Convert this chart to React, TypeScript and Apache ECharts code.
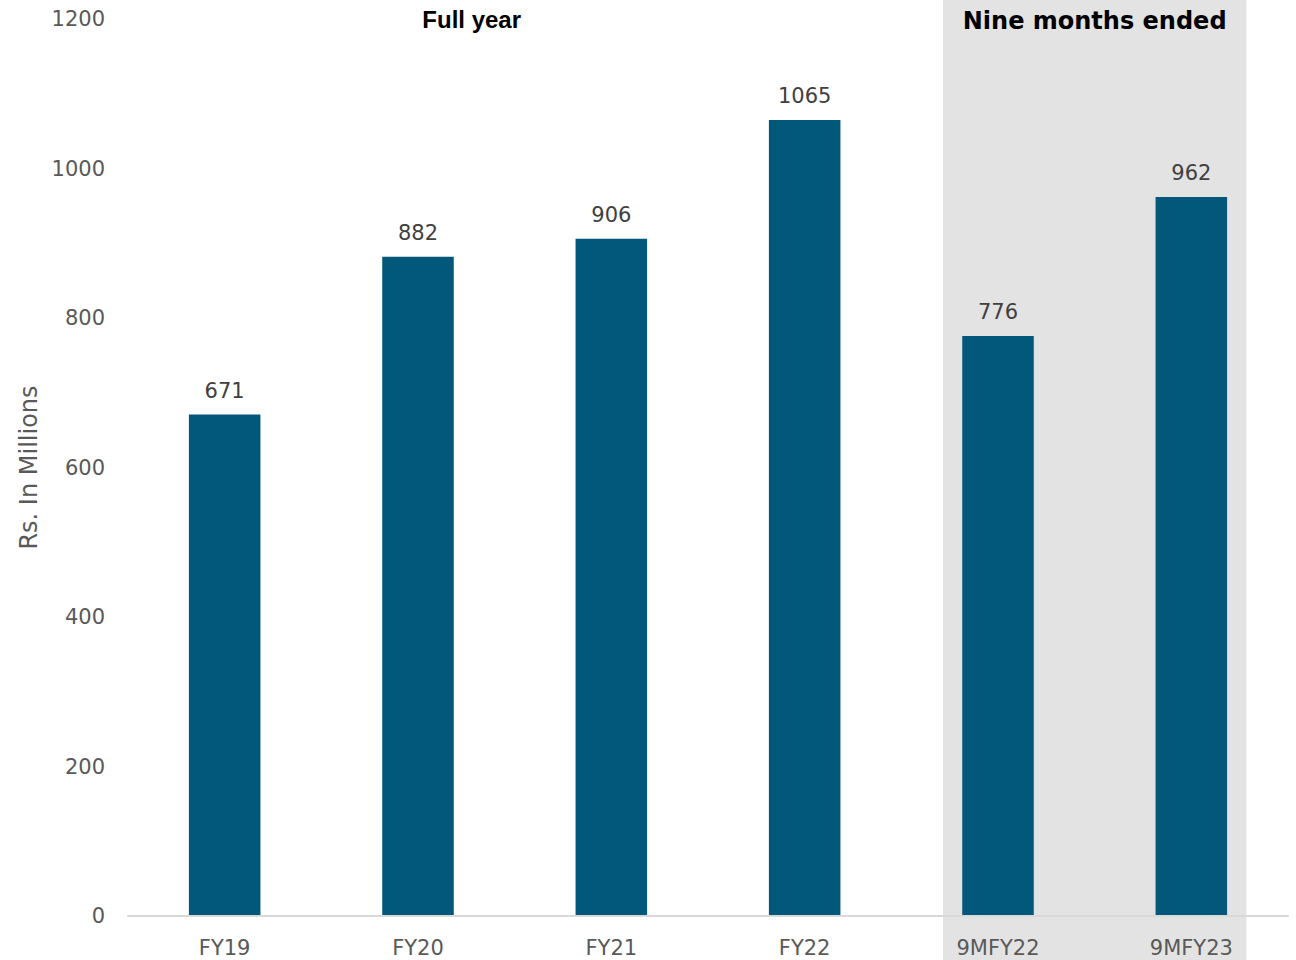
import React, { useEffect, useRef } from "react";
import * as echarts from "echarts";

const categories = ["FY19", "FY20", "FY21", "FY22", "9MFY22", "9MFY23"];
const values = [671, 882, 906, 1065, 776, 962];
const yTicks = { min: 0, max: 1200, interval: 200 };
const groupTitles = ["Full year", "Nine months ended"];

export default function App() {
  const ref = useRef<HTMLDivElement>(null);
  useEffect(() => {
    const chart = echarts.init(ref.current!, undefined, { renderer: "svg" });
    const font = "DejaVu Sans";
    chart.setOption({
      animation: false,
      backgroundColor: "#ffffff",
      grid: { left: 128, right: 8, top: 19, bottom: 44, containLabel: false },
      xAxis: {
        type: "category",
        data: categories,
        axisLine: { lineStyle: { color: "#d9d9d9", width: 2 } },
        axisTick: { show: false },
        axisLabel: { color: "#595959", fontSize: 21, fontFamily: font, margin: 21 },
        z: 5,
      },
      yAxis: {
        type: "value",
        min: yTicks.min,
        max: yTicks.max,
        interval: yTicks.interval,
        axisLine: { show: false },
        axisTick: { show: false },
        splitLine: { show: false },
        axisLabel: {
          color: "#595959",
          fontSize: 21,
          fontFamily: font,
          margin: 23,
          formatter: (v: number) => String(v),
        },
        name: "Rs. In Millions",
        nameLocation: "middle",
        nameGap: 84,
        nameTextStyle: { color: "#595959", fontSize: 24, fontFamily: font },
      },
      series: [
        {
          type: "bar",
          data: values,
          barWidth: "37%",
          itemStyle: { color: "#02587a" },
          label: {
            show: true,
            position: "top",
            distance: 13,
            color: "#404040",
            fontSize: 21,
            fontFamily: font,
          },
          z: 3,
        },
      ],
    });

    const p0 = chart.convertToPixel({ xAxisIndex: 0 }, categories[0]) as number;
    const p3 = chart.convertToPixel({ xAxisIndex: 0 }, categories[3]) as number;
    const p4 = chart.convertToPixel({ xAxisIndex: 0 }, categories[4]) as number;
    const p5 = chart.convertToPixel({ xAxisIndex: 0 }, categories[5]) as number;
    const pad = 55;
    chart.setOption({
      graphic: [
        {
          type: "rect",
          z: -10,
          shape: { x: p4 - pad, y: 0, width: p5 - p4 + 2 * pad, height: 960 },
          style: { fill: "#e3e3e3" },
          silent: true,
        },
        {
          type: "text",
          z: 10,
          x: (p0 + p3) / 2 - 43,
          y: 19,
          style: {
            text: groupTitles[0],
            fill: "#000000",
            font: "bold 24px 'Liberation Sans'",
            align: "center",
            verticalAlign: "middle",
          },
        },
        {
          type: "text",
          z: 10,
          x: (p4 + p5) / 2,
          y: 21,
          style: {
            text: groupTitles[1],
            fill: "#000000",
            font: "bold 24px 'DejaVu Sans'",
            align: "center",
            verticalAlign: "middle",
          },
        },
      ],
    });
    return () => chart.dispose();
  }, []);
  return (
    <div
      ref={ref}
      style={{ position: "fixed", left: 0, top: 0, width: 1296, height: 960 }}
    />
  );
}
